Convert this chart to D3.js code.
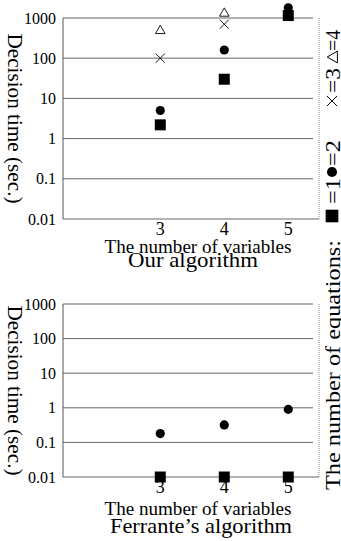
<!DOCTYPE html>
<html>
<head>
<meta charset="utf-8">
<script src="https://cdn.jsdelivr.net/npm/d3@7"></script>
<style>
  body { margin: 0; background: #fff; }
  svg { display: block; }
  text { font-family: "Liberation Serif", "Times New Roman", serif; fill: #000; }
</style>
</head>
<body>
<div class="canvas"></div>
<script>
// data
const variables = [3, 4, 5];
const ourEq1 = [2.2, 30, 1150];
const ourEq2 = [5, 160, 1800];
const ourEq3 = [100, 700, null];
const ourEq4 = [480, 1300, null];
const ferEq1 = [0.01, 0.01, 0.01];
const ferEq2 = [0.18, 0.32, 0.9];
const yTicks = [0.01, 0.1, 1, 10, 100, 1000];
const yTickLabels = ["0.01", "0.1", "1", "10", "100", "1000"];
const legendShapes = ["square", "circle", "cross", "triangle"];
const legendLabels = ["=1", "=2", "=3", "=4"];

const dims = {width: 341, height: 541};
const svg = d3.select(".canvas")
    .append("svg")
    .attr("width", dims.width)
    .attr("height", dims.height);

const x = d3.scaleLinear()
    .domain([1.48, 5.48])
    .range([63, 319]);

const symbols = {
    square: d3.symbol().type(d3.symbolSquare).size(121),
    circle: d3.symbol().type(d3.symbolCircle).size(66),
    cross: d3.symbol().type(d3.symbolX).size(56),
    triangle: d3.symbol().type(d3.symbolTriangle).size(40)
};

const drawPanel = (cfg) => {
    const y = d3.scaleLog()
        .domain([0.01, 1000])
        .range([cfg.bottom, cfg.top]);
    const g = svg.append("g");

    // gridlines
    g.selectAll("line.grid")
        .data(yTicks)
        .enter()
        .append("line")
        .attr("class", "grid")
        .attr("x1", x.range()[0])
        .attr("x2", d => d === 0.01 ? x.range()[1] : x.range()[1] - 6)
        .attr("y1", d => y(d))
        .attr("y2", d => y(d))
        .attr("stroke", d => d === 1000 ? "#999" : "#666")
        .attr("stroke-width", d => d === 1000 ? 1.5 : 1);

    // left axis & right border
    g.append("line")
        .attr("x1", x.range()[0]).attr("x2", x.range()[0])
        .attr("y1", cfg.top).attr("y2", cfg.bottom)
        .attr("stroke", "#555");
    g.append("line")
        .attr("x1", x.range()[1]).attr("x2", x.range()[1])
        .attr("y1", cfg.top).attr("y2", cfg.bottom)
        .attr("stroke", "#888")
        .attr("stroke-dasharray", "1,1");

    // y tick labels
    g.selectAll("text.ytick")
        .data(yTicks)
        .enter()
        .append("text")
        .attr("class", "ytick")
        .attr("x", 56)
        .attr("y", d => y(d))
        .attr("dy", "0.35em")
        .attr("text-anchor", "end")
        .style("font-size", "16px")
        .text((d, i) => yTickLabels[i]);

    // x tick labels
    g.selectAll("text.xtick")
        .data(variables)
        .enter()
        .append("text")
        .attr("class", "xtick")
        .attr("x", d => x(d))
        .attr("y", cfg.bottom + 16)
        .attr("text-anchor", "middle")
        .style("font-size", "18px")
        .text(d => d);

    g.append("text")
        .attr("x", 198)
        .attr("y", cfg.bottom + cfg.labelGap)
        .attr("text-anchor", "middle")
        .attr("textLength", 187)
        .attr("lengthAdjust", "spacingAndGlyphs")
        .style("font-size", "19px")
        .text("The number of variables");

    g.append("text")
        .attr("x", cfg.titleX)
        .attr("y", cfg.bottom + cfg.titleGap)
        .attr("text-anchor", "middle")
        .attr("textLength", cfg.titleLen)
        .attr("lengthAdjust", "spacingAndGlyphs")
        .style("font-size", "21px")
        .text(cfg.title);

    // y axis title
    g.append("text")
        .attr("transform", `translate(8, ${(cfg.top + cfg.bottom) / 2}) rotate(90)`)
        .attr("text-anchor", "middle")
        .attr("textLength", 170)
        .attr("lengthAdjust", "spacingAndGlyphs")
        .style("font-size", "21px")
        .text("Decision time (sec.)");

    // markers
    cfg.series.forEach(s => {
        const pts = variables.map((v, i) => ({v: v, t: s.values[i]}))
            .filter(p => p.t != null);
        g.selectAll(null)
            .data(pts)
            .enter()
            .append("path")
            .attr("transform", d => `translate(${x(d.v)}, ${y(d.t)})`)
            .attr("d", symbols[s.shape])
            .attr("fill", s.filled ? "#000" : "none")
            .attr("stroke", "#000")
            .attr("stroke-width", s.filled ? 0 : 0.9);
    });
};

drawPanel({
    top: 18, bottom: 219, labelGap: 34, titleGap: 48,
    title: "Our algorithm", titleX: 193, titleLen: 130,
    series: [
        {values: ourEq4, shape: "triangle", filled: false},
        {values: ourEq3, shape: "cross", filled: false},
        {values: ourEq1, shape: "square", filled: true},
        {values: ourEq2, shape: "circle", filled: true}
    ]
});

drawPanel({
    top: 304, bottom: 477, labelGap: 38, titleGap: 56,
    title: "Ferrante\u2019s algorithm", titleX: 201, titleLen: 182,
    series: [
        {values: ferEq1, shape: "square", filled: true},
        {values: ferEq2, shape: "circle", filled: true}
    ]
});

// legend on the right, reading bottom to top
const legendX = 340;
svg.append("text")
    .attr("transform", `translate(${legendX}, 490) rotate(-90)`)
    .attr("textLength", 250)
    .attr("lengthAdjust", "spacingAndGlyphs")
    .style("font-size", "20px")
    .text("The number of equations:");

const legendSym = [216, 172, 101, 57];
const legendText = [204, 166, 93, 51];
const legendLen = [26, 26, 25, 21];

const legendSymbols = {
    square: d3.symbol().type(d3.symbolSquare).size(160),
    circle: d3.symbol().type(d3.symbolCircle).size(80),
    cross: d3.symbol().type(d3.symbolX).size(70),
    triangle: d3.symbol().type(d3.symbolTriangle).size(60)
};

svg.selectAll("path.legend")
    .data(legendShapes)
    .enter()
    .append("path")
    .attr("class", "legend")
    .attr("transform", (d, i) => `translate(${d === "triangle" ? 334 : 332}, ${legendSym[i]}) rotate(-90)`)
    .attr("d", d => legendSymbols[d]())
    .attr("fill", d => (d === "square" || d === "circle") ? "#000" : "none")
    .attr("stroke", "#000")
    .attr("stroke-width", d => (d === "square" || d === "circle") ? 0 : 1);

svg.selectAll("text.legend")
    .data(legendLabels)
    .enter()
    .append("text")
    .attr("class", "legend")
    .attr("transform", (d, i) => `translate(${legendX}, ${legendText[i]}) rotate(-90)`)
    .attr("textLength", (d, i) => legendLen[i])
    .attr("lengthAdjust", "spacingAndGlyphs")
    .style("font-size", "20px")
    .text(d => d);
</script>
</body>
</html>
